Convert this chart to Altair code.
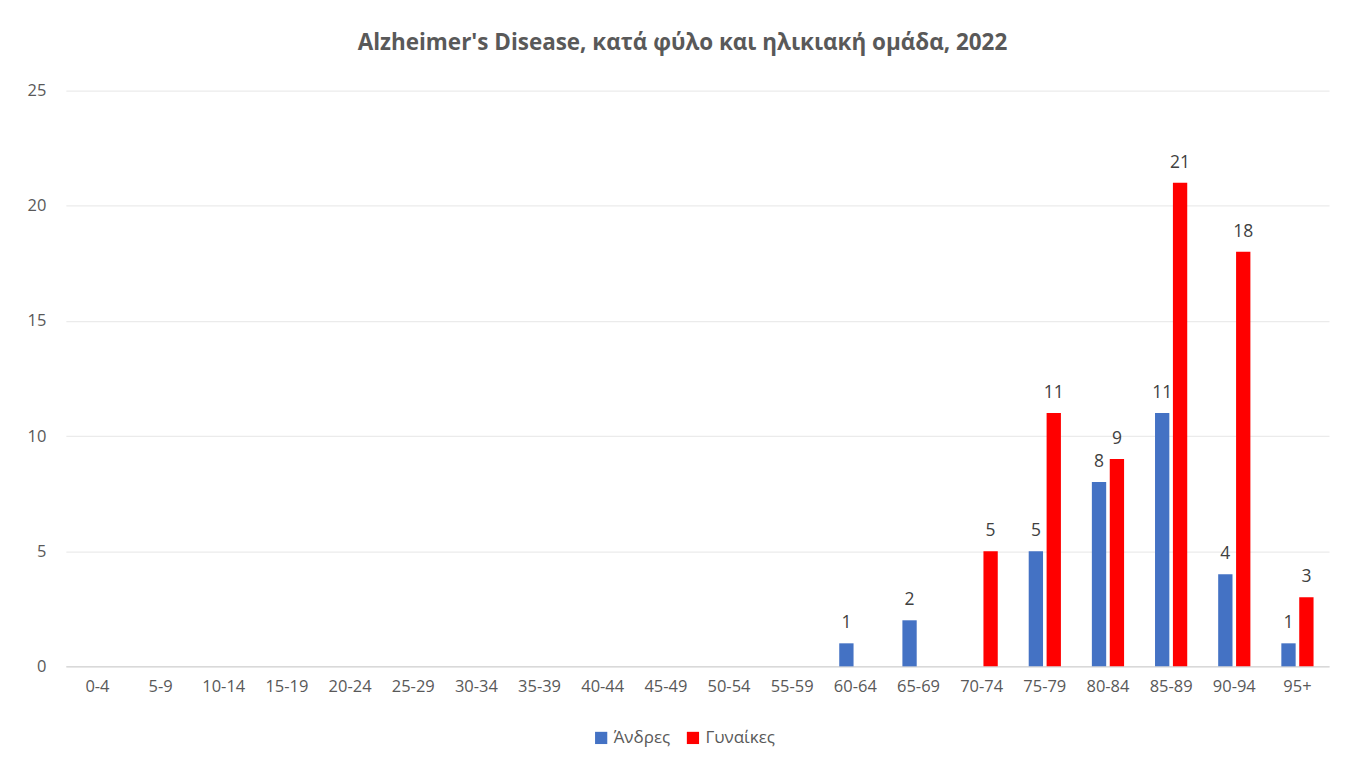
import altair as alt
import pandas as pd

categories = ["0-4", "5-9", "10-14", "15-19", "20-24", "25-29", "30-34", "35-39",
              "40-44", "45-49", "50-54", "55-59", "60-64", "65-69", "70-74",
              "75-79", "80-84", "85-89", "90-94", "95+"]
men = [None, None, None, None, None, None, None, None, None, None, None, None,
       1, 2, None, 5, 8, 11, 4, 1]
women = [None, None, None, None, None, None, None, None, None, None, None, None,
         None, None, 5, 11, 9, 21, 18, 3]
series = ["Άνδρες", "Γυναίκες"]
colors = ["#4472C4", "#FF0000"]
title = "Alzheimer's Disease, κατά φύλο και ηλικιακή ομάδα, 2022"

rows = []
for c, m, w in zip(categories, men, women):
    rows.append({"cat": c, "series": series[0], "value": m})
    rows.append({"cat": c, "series": series[1], "value": w})
df = pd.DataFrame(rows)
df = df[df["value"].notna()]

FONT = "Open Sans"

x = alt.X("cat:N", sort=categories,
          scale=alt.Scale(domain=categories, paddingInner=0.49, paddingOuter=0.245),
          axis=alt.Axis(title=None, labelAngle=0, ticks=False, domainColor="#d9d9d9",
                        domainWidth=1.5, labelColor="#595959", labelFontSize=16.5,
                        labelPadding=12, labelFont=FONT, grid=False))
xo = alt.XOffset("series:N", scale=alt.Scale(domain=series, paddingInner=0.2))
y = alt.Y("value:Q",
          scale=alt.Scale(domain=[0, 25], nice=False),
          axis=alt.Axis(title=None, values=[0, 5, 10, 15, 20, 25], ticks=False, domain=False,
                        gridColor="#ebebeb", gridWidth=1.3, labelColor="#595959",
                        labelFontSize=16.5, labelPadding=20, labelFont=FONT))
color = alt.Color("series:N", scale=alt.Scale(domain=series, range=colors),
                  legend=alt.Legend(title=None, orient="none", direction="horizontal",
                                    legendX=528, legendY=640, symbolType="square",
                                    symbolSize=150, symbolStrokeWidth=0,
                                    labelFontSize=17, labelColor="#595959", labelFont=FONT,
                                    columnPadding=14, labelOffset=4))

base = alt.Chart(df)
bars = base.mark_bar().encode(x=x, xOffset=xo, y=y, color=color)
labels = base.mark_text(baseline="bottom", dy=-11, fontSize=17.5, color="#404040",
                        font=FONT).encode(x=x, xOffset=xo, y=y, text=alt.Text("value:Q"))

chart = alt.layer(bars, labels).properties(
    width=1266, height=577,
    view=alt.ViewBackground(strokeWidth=0, stroke="transparent"),
    title=alt.Title(title, font=FONT, fontSize=22.5, fontWeight="bold", color="#595959",
                    anchor="middle", offset=28, dx=-15),
    autosize=alt.AutoSizeParams(type="none"),
    padding={"left": 58, "top": 82, "right": 10, "bottom": 80},
).configure_view(strokeWidth=0, stroke="transparent").configure_axisX(grid=False).configure(background="white")

chart.save("out.html", embed_options={"renderer": "svg", "actions": False})
